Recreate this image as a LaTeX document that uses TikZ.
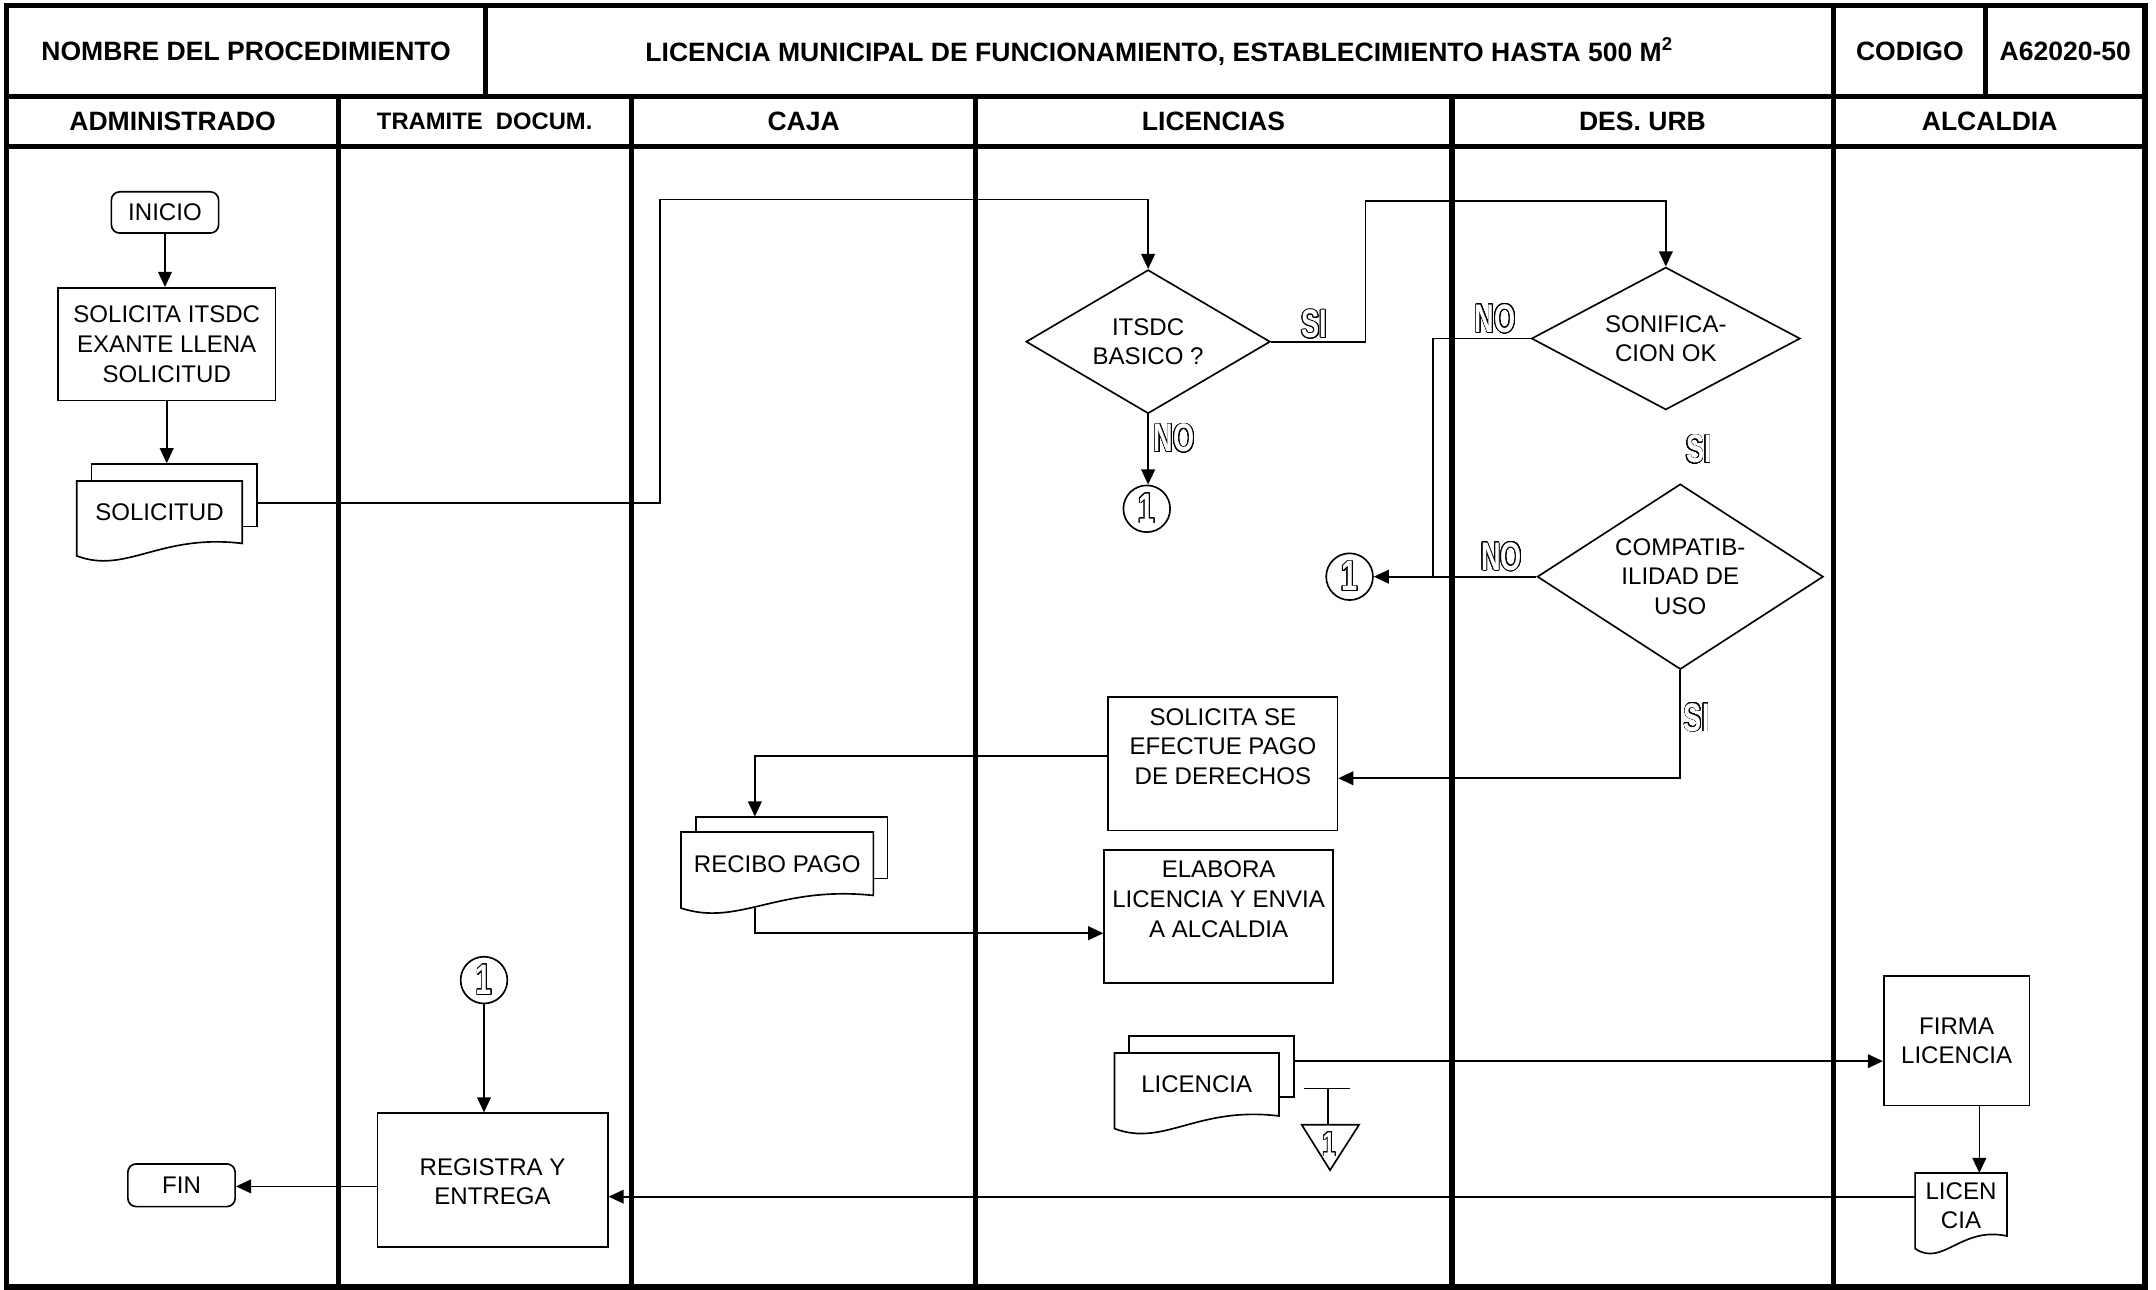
\documentclass[tikz,border=0pt]{standalone}
\usepackage{fontspec}
\setmainfont{Liberation Sans}
\newfontfamily\lblfont[FakeStretch=0.68]{Liberation Sans}
\usepackage[copies]{contour}
\contourlength{0.6pt}
\contournumber{32}
\usetikzlibrary{arrows.meta,shapes.geometric,calc}

\newcommand\bodyf{\fontsize{17.5}{21.5}\selectfont}
\newcommand\headf{\fontsize{19.3}{23}\selectfont\bfseries}
\newcommand\headsf{\fontsize{17.3}{21}\selectfont\bfseries}
\newcommand\lblf{\fontsize{29}{30}\selectfont\lblfont\bfseries}
\newcommand\circf{\fontsize{31}{32}\selectfont\lblfont\bfseries}
\newcommand\trif{\fontsize{25}{26}\selectfont\lblfont\bfseries}

\tikzset{
  ln/.style={line width=1.2pt},
  frm/.style={line width=3.8pt},
  arr/.style={ln, -{Triangle[length=11pt,width=10pt]}},
  box/.style={draw, ln, rectangle, inner sep=0pt, fill=white},
  rbox/.style={box, rounded corners=6pt, font=\bodyf},
  txt/.style={font=\bodyf, align=center, inner sep=0pt},
  hdr/.style={font=\headf, align=center, inner sep=0pt},
  dec/.style={draw, ln, diamond, inner sep=0pt, font=\bodyf, align=center},
  conn/.style={draw, ln, circle, minimum size=34pt, inner sep=0pt, text=white, font=\circf},
  lbl/.style={text=white, font=\lblf, inner sep=0pt},
  docf/.style={inner sep=0pt, rectangle},
}

\newcommand\docshape[1]{%
  \filldraw[ln, fill=white] let \p1=(#1.south west), \p2=(#1.north east),
    \n1={\y2-\y1}, \n2={\x2-\x1} in
    (\x1,\y2) -- (\x2,\y2) -- (\x2,\y1)
    .. controls ({\x1+0.5*\n2},{\y1+0.16*\n1}) and ({\x1+0.3*\n2},{\y1-0.5*\n1}) ..
    (\x1,{\y1-0.2*\n1}) -- cycle;}

\begin{document}
\begin{tikzpicture}[x=1pt,y=-1pt]
\useasboundingbox (0,0) rectangle (1568,938);

% ---------- frame ----------
\draw[frm] (5,4) rectangle (1560,936);
\draw[frm] (5,70.3) -- (1560,70.3);
\draw[frm] (5,106.7) -- (1560,106.7);
\draw[frm] (353,4) -- (353,70.3);
\draw[frm] (1444,4) -- (1444,70.3);
\draw[frm] (1333.5,4) -- (1333.5,936);
\draw[frm] (246,70.3) -- (246,936);
\draw[frm] (459.5,70.3) -- (459.5,936);
\draw[frm] (709.5,70.3) -- (709.5,936);
\draw[frm] (1056,70.3) -- (1056,936);

% ---------- headers ----------
\node[hdr] (hNom) at (179,37.5) {NOMBRE DEL PROCEDIMIENTO};
\node[hdr] (hTit) at (843,37.5) {LICENCIA MUNICIPAL DE FUNCIONAMIENTO, ESTABLECIMIENTO HASTA 500 M\textsuperscript{2}};
\node[hdr] (hCod) at (1389,37.5) {CODIGO};
\node[hdr] (hNum) at (1502,37.5) {A62020-50};
\node[hdr] (lAdm) at (125.5,88.5) {ADMINISTRADO};
\node[hdr, font=\headsf] (lTra) at (352.5,88.5) {TRAMITE\ \ DOCUM.};
\node[hdr] (lCaj) at (584.5,88.5) {CAJA};
\node[hdr] (lLic) at (882.5,88.5) {LICENCIAS};
\node[hdr] (lDes) at (1194.5,88.5) {DES. URB};
\node[hdr] (lAlc) at (1447,88.5) {ALCALDIA};

% ---------- ADMINISTRADO ----------
\node[rbox, minimum width=78pt, minimum height=30pt] (inicio) at (120,154.5) {INICIO};
\node[box, txt, minimum width=158pt, minimum height=82pt] (solicita) at (121.25,250.3) {SOLICITA ITSDC\\EXANTE LLENA\\SOLICITUD};
\node[box, minimum width=120.2pt, minimum height=45.5pt] (solB) at (126.6,360.25) {};
\node[docf, minimum width=120pt, minimum height=45pt] (sol) at (116,372.5) {};
\docshape{sol}
\node[txt] (solT) at (sol.center) {SOLICITUD};
\node[rbox, minimum width=78pt, minimum height=31pt] (fin) at (132,862) {FIN};

% ---------- TRAMITE ----------
\node[conn] (c3) at (352,712.8) {\contour{black}{1}};
\node[box, minimum width=167.5pt, minimum height=97.4pt] (registra) at (358.25,858.3) {};
\node[txt] (registraT) at (358.25,859.5) {REGISTRA Y\\ENTREGA};

% ---------- CAJA ----------
\node[box, minimum width=139.5pt, minimum height=44.6pt] (recB) at (575.75,616.7) {};
\node[docf, minimum width=139.5pt, minimum height=45.7pt] (rec) at (565.25,628.15) {};
\docshape{rec}
\node[txt] (recT) at (rec.center) {RECIBO PAGO};

% ---------- LICENCIAS ----------
\node[dec, minimum width=177.6pt, minimum height=104.5pt, shape aspect=1.7] (itsdc) at (835,248.5) {ITSDC\\BASICO ?};
\node[conn] (c1) at (834,370) {\contour{black}{1}};
\node[box, minimum width=166.7pt, minimum height=97pt] (pago) at (889.35,555.5) {};
\node[txt] (pagoT) at (889.35,543) {SOLICITA SE\\EFECTUE PAGO\\DE DERECHOS};
\node[box, minimum width=166.5pt, minimum height=97pt] (elabora) at (886.25,666.5) {};
\node[txt] (elaboraT) at (886.25,654) {ELABORA\\LICENCIA Y ENVIA\\A ALCALDIA};
\node[box, minimum width=120pt, minimum height=44.5pt] (licB) at (881,775.75) {};
\node[docf, minimum width=119.3pt, minimum height=45.4pt] (lic) at (870.35,788.7) {};
\docshape{lic}
\node[txt] (licT) at (lic.center) {LICENCIA};
% off-page connector
\draw[ln] (948,791.5) -- (982,791.5) (966,791.5) -- (966,818);
\draw[ln] (946.7,818) -- (988.4,818) -- (967.3,851) -- cycle;
\node[lbl, font=\trif] (off) at (966.5,832.5) {\contour{black}{1}};
\node[conn] (c2) at (981.5,419.4) {\contour{black}{1}};

% ---------- DES. URB ----------
\node[dec, minimum width=195.4pt, minimum height=103.6pt, shape aspect=1.88] (sonif) at (1211.5,246.2) {SONIFICA-\\CION OK};
\node[dec, minimum width=208pt, minimum height=134.8pt, shape aspect=1.54] (compat) at (1222,419.4) {COMPATIB-\\ILIDAD DE\\USO};

% ---------- ALCALDIA ----------
\node[box, txt, minimum width=106pt, minimum height=94pt] (firma) at (1423,757) {FIRMA\\LICENCIA};
\node[docf, minimum width=66.4pt, minimum height=45.4pt] (licen) at (1426.2,876) {};
\docshape{licen}
\node[txt] (licenT) at (1426.2,877) {LICEN\\CIA};

% ---------- connectors ----------
\coordinate (w1) at (480,145);
\coordinate (w2) at (993,146);
\coordinate (jn) at (1042,419.4);
\draw[arr] (inicio.south) -- (inicio.south |- solicita.north);
\draw[arr] (solicita.south) -- (solicita.south |- solB.north);
\draw[arr] ([yshift=-5.5pt]solB.east) -| (w1) -| (itsdc.north);
\draw[arr] (itsdc.east) -| (w2) -| (sonif.north);
\draw[arr] (itsdc.south) -- (itsdc.south |- c1.north);
\draw[ln] (sonif.west) -| (jn);
\draw[arr] (compat.west) -- (c2.east);
\draw[arr] (compat.south) |- ([yshift=-10.5pt]pago.east);
\draw[arr] ([yshift=5.5pt]pago.west) -| ([xshift=-26.75pt]recB.north);
\draw[arr] ([xshift=-16.25pt,yshift=-9pt]rec.south) |- ([yshift=-12.2pt]elabora.west);
\draw[arr] ([yshift=4pt]licB.east) -- ([yshift=4pt]licB.east -| firma.west);
\draw[arr] ([xshift=16.5pt]firma.south) -- ([xshift=16.5pt]firma.south |- licen.north);
\draw[arr] ([yshift=5.7pt]licen.west) -- ([yshift=5.7pt]licen.west -| registra.east);
\draw[arr] (c3.south) -- (c3.south |- registra.north);
\draw[arr] ([yshift=-4.5pt]registra.west) -- ([yshift=-4.5pt]registra.west -| fin.east);

% ---------- labels ----------
\node[lbl] (si1) at (956,236) {\contour{black}{SI}};
\node[lbl] (no1) at (854,319) {\contour{black}{NO}};
\node[lbl] (no2) at (1087.5,232) {\contour{black}{NO}};
\node[lbl] (si2) at (1235.5,327) {\contour{black}{SI}};
\node[lbl] (no3) at (1092,405) {\contour{black}{NO}};
\node[lbl] (si3) at (1234,522) {\contour{black}{SI}};
\end{tikzpicture}
\end{document}
